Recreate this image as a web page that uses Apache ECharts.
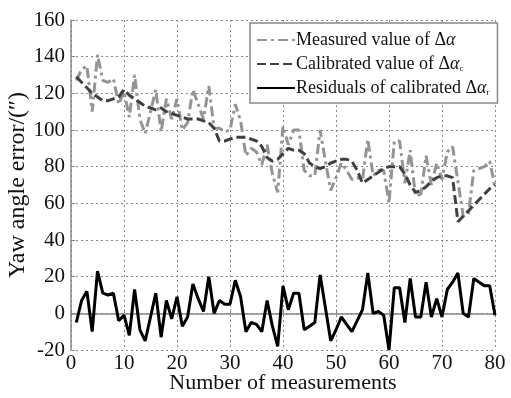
<!DOCTYPE html>
<html><head><meta charset="utf-8">
<script src="https://cdn.jsdelivr.net/npm/echarts@6/dist/echarts.min.js"></script>
<style>html,body{margin:0;padding:0;background:#fff}#c{width:511px;height:398px}</style>
</head><body><div id="c"></div>
<script>
const xValues = Array.from({length: 80}, (_, i) => i + 1);
const measured = [127,133,135,110,141,127,126,128,114,121,107,130,106,98,110,122,99,117,106,117,100,104,122,114,106,124,101,101,99,100,114,105,86,90,88,81,92,76,66,102,92,100,100,78,75,75,100,83,67,74,82,78,73,74,73,95,75,78,78,60,94,94,71,89,64,65,86,70,82,73,88,91,72,53,54,78,79,80,83,69];
const calibrated = [129,126,123,120,118,116,116,117,118,122,119,117,115,113,112,111,112,110,109,108,107,106,106,106,105,104,101,94,94,95,96,96,96,95,94,91,85,83,84,87,90,89,89,87,82,80,79,80,82,83,84,84,83,78,71,73,75,77,79,80,80,80,76,70,66,67,69,72,74,75,75,74,50,53,56,59,62,65,68,70];
const residuals = [-5,7,12,-10,23,11,10,11,-4,-1,-12,13,-9,-15,-2,11,-13,7,-3,9,-7,-2,16,8,1,20,0,7,5,5,18,9,-10,-5,-6,-10,7,-7,-18,15,2,11,11,-9,-7,-5,21,3,-15,-9,-2,-6,-10,-4,2,22,0,1,-1,-20,14,14,-5,19,-2,-2,17,-2,8,-2,13,17,22,0,-2,19,17,15,15,-1];
const seriesNames = ['Measured value of Δα', 'Calibrated value of Δαc', 'Residuals of calibrated Δαr'];
const xTitle = 'Number of measurements';
const yTitle = 'Yaw angle error/(″)';

const pair = arr => arr.map((v, i) => [xValues[i], v]);
const serif = 'Liberation Serif, Times New Roman, serif';
const chart = echarts.init(document.getElementById('c'));
chart.setOption({
  animation: false,
  backgroundColor: '#fff',
  grid: {left: 71, right: 16, top: 20, bottom: 48, containLabel: false, outerBoundsMode: 'none'},
  legend: {
    orient: 'vertical', left: 250, top: 23, width: 244,
    backgroundColor: '#fff', borderColor: '#888', borderWidth: 1.5,
    padding: [8, 8, 6, 6], itemGap: 6, itemWidth: 38, itemHeight: 14,
    data: seriesNames,
    itemStyle: {opacity: 0},
    formatter: function (n) {
      if (n === seriesNames[0]) return 'Measured value of Δ{i|α}';
      if (n === seriesNames[1]) return 'Calibrated value of Δ{i|α}{s|c}';
      return 'Residuals of calibrated Δ{i|α}{s|r}';
    },
    textStyle: {
      fontFamily: serif, fontSize: 18, color: '#111', padding: [0, 0, 0, -4],
      rich: {
        i: {fontFamily: serif, fontSize: 18, fontStyle: 'italic', color: '#111'},
        s: {fontFamily: serif, fontSize: 9, color: '#111', verticalAlign: 'bottom', padding: [8, 0, 0, 0]}
      }
    }
  },
  xAxis: {
    type: 'value', min: 0, max: 80, interval: 10,
    name: xTitle, nameLocation: 'middle', nameGap: 22, nameMoveOverlap: false,
    nameTextStyle: {fontFamily: serif, fontSize: 22, color: '#111'},
    axisLine: {lineStyle: {color: '#888', width: 1.5}},
    axisTick: {inside: true, length: 4, lineStyle: {color: '#888'}},
    axisLabel: {fontFamily: serif, fontSize: 21, color: '#111', margin: 3},
    splitLine: {show: true, lineStyle: {color: '#888', type: [2, 3], width: 1}}
  },
  yAxis: {
    type: 'value', min: -20, max: 160, interval: 20,
    name: yTitle, nameLocation: 'middle', nameGap: 41, nameRotate: 90, nameMoveOverlap: false,
    nameTextStyle: {fontFamily: serif, fontSize: 24, color: '#111'},
    axisLine: {show: true, lineStyle: {color: '#888', width: 1.5}},
    axisTick: {show: true, inside: true, length: 4, lineStyle: {color: '#888'}},
    axisLabel: {fontFamily: serif, fontSize: 21, color: '#111', margin: 6},
    splitLine: {show: true, lineStyle: {color: '#888', type: [2, 3], width: 1}}
  },
  series: [
    {name: seriesNames[0], type: 'line', data: pair(measured), showSymbol: false, symbol: 'none',
     lineStyle: {color: '#949494', width: 3, type: [10, 4, 3, 4]}, itemStyle: {color: '#949494'}, z: 2},
    {name: seriesNames[1], type: 'line', data: pair(calibrated), showSymbol: false, symbol: 'none',
     lineStyle: {color: '#404040', width: 3, type: [9, 4]}, itemStyle: {color: '#404040'}, z: 3},
    {name: seriesNames[2], type: 'line', data: pair(residuals), showSymbol: false, symbol: 'none',
     lineStyle: {color: '#000', width: 3}, itemStyle: {color: '#000'}, z: 4}
  ]
});
</script></body></html>
